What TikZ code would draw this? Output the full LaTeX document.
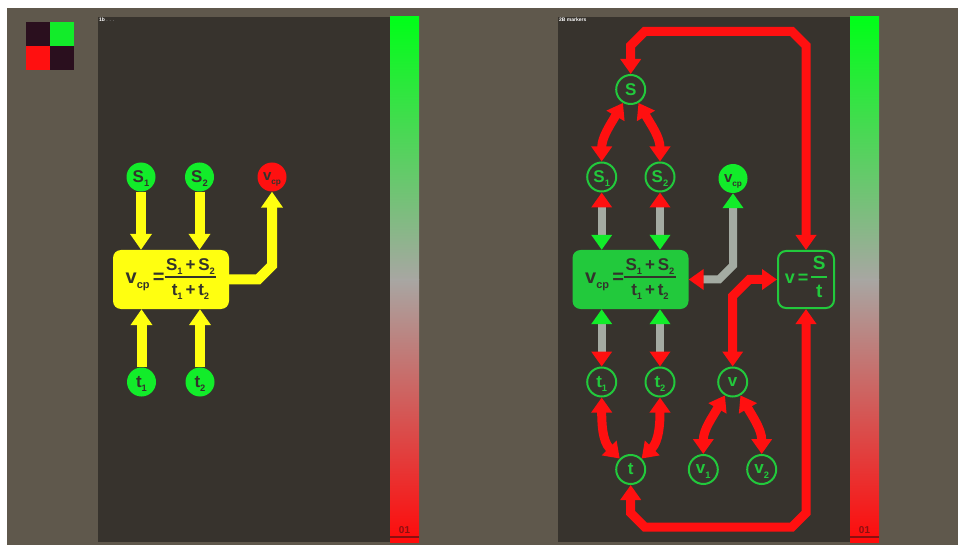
\documentclass[tikz,border=0pt]{standalone}
\usepackage{fontspec}
\usepackage{graphicx}
\setmainfont{Liberation Sans}
\usetikzlibrary{arrows.meta}
\definecolor{outer}{HTML}{5F584C}
\definecolor{panel}{HTML}{37332D}
\definecolor{ylw}{HTML}{FFFF10}
\definecolor{gbright}{HTML}{12EC2A}
\definecolor{gmid}{HTML}{22C93C}
\definecolor{rd}{HTML}{FF1010}
\definecolor{gry}{HTML}{A4ABA2}
\definecolor{txtdark}{HTML}{33332C}
\definecolor{barg}{HTML}{00FF18}
\definecolor{barm}{HTML}{A8A6A2}
\definecolor{barr}{HTML}{FF0A0A}
\definecolor{dred}{HTML}{8A1010}
\definecolor{chk}{HTML}{2A0F1E}
\newcommand{\sub}[1]{\raisebox{-0.45ex}[0pt][0pt]{\scalebox{0.55}{#1}}}
\newcommand{\myfrac}[3]{{\fontsize{#1}{#1}\selectfont\setlength{\arrayrulewidth}{1.8pt}\setlength{\tabcolsep}{1.5pt}\renewcommand{\arraystretch}{1.0}\begin{tabular}{c}#2\rule[-0.3em]{0pt}{0pt}\\[1pt]\hline\rule{0pt}{1.02em}#3\end{tabular}}}
\tikzset{
  fcirc/.style={circle, minimum size=29pt, inner sep=0pt, font=\fontsize{17}{17}\selectfont\bfseries, text=txtdark},
  lg/.style={fcirc, fill=gbright},
  lr/.style={fcirc, fill=rd},
  og/.style={fcirc, draw=gmid, line width=2pt, fill=panel, text=gmid},
  eqbox/.style={rounded corners=8pt, minimum width=116pt, minimum height=59pt, inner sep=0pt, font=\fontsize{20}{20}\selectfont\bfseries, text=txtdark},
  yarr/.style={draw=ylw, line width=10pt, line join=miter, -{Triangle[width=21pt,length=16pt]}},
  rarr/.style={draw=rd, line width=9pt, line join=miter, {Triangle[width=20pt,length=15pt]}-{Triangle[width=20pt,length=15pt]}},
  rgarr/.style={draw=gry, line width=8pt, line join=miter, {Triangle[width=20pt,length=15pt,color=rd]}-{Triangle[width=20pt,length=15pt,color=gbright]}},
  tinylbl/.style={font=\fontsize{5}{5}\selectfont\bfseries, text=white, anchor=west, inner sep=0pt},
  barlbl/.style={font=\fontsize{10}{10}\selectfont\bfseries, text=dred, inner sep=0pt}
}
\begin{document}
\begin{tikzpicture}[x=1pt,y=-1pt]
\useasboundingbox (0,0) rectangle (958,545);
\fill[white] (0,0) rectangle (958,545);
\fill[outer] (7,8) rectangle (958,545);
% checkers
\fill[chk] (26,22) rectangle (50,46);
\fill[gbright] (50,22) rectangle (74,46);
\fill[rd] (26,46) rectangle (50,70);
\fill[chk] (50,46) rectangle (74,70);
% panels
\fill[panel] (98,17) rectangle (390,542);
\fill[panel] (558,17) rectangle (850,542);
% bars
\foreach \bx in {390,850}{
  \shade[top color=barg, bottom color=barm] (\bx,17) rectangle (\bx+29,280);
  \shade[top color=barm, bottom color=barr] (\bx,280) rectangle (\bx+29,542);
  \draw[dred, line width=2pt] (\bx,536.5) -- (\bx+29,536.5);
}
\node[barlbl] (lbl01a) at (404.5,530) {01};
\node[barlbl] (lbl01b) at (864.5,530) {01};
\node[tinylbl] (tagA) at (99,20) {1b \textcolor{gray}{. . .}};
\node[tinylbl] (tagB) at (559,20) {2B markers};

% ---------- left panel ----------
\node[lg] (S1) at (141,177) {S\sub{1}};
\node[lg] (S2) at (199.5,177) {S\sub{2}};
\node[lr] (vcpL) at (272,177) {\fontsize{15}{15}\selectfont v\sub{cp}};
\node[eqbox, fill=ylw] (ybox) at (171,279.5) {v\sub{cp}\,=\myfrac{17}{S\sub{1}\,+\,S\sub{2}}{t\sub{1}\,+\,t\sub{2}}};
\node[lg] (t1) at (141.5,382) {t\sub{1}};
\node[lg] (t2) at (200,382) {t\sub{2}};
\draw[yarr] (S1) -- (S1.south |- ybox.north);
\draw[yarr] (S2) -- (S2.south |- ybox.north);
\draw[yarr] (t1) -- (t1.north |- ybox.south);
\draw[yarr] (t2) -- (t2.north |- ybox.south);
\draw[yarr] (ybox.east) -- (258,279.5) -- (272,265.5) -- (vcpL.south);

% ---------- right panel ----------
\node[og] (S) at (630.7,89.5) {S};
\node[og] (S1r) at (601.7,177) {S\sub{1}};
\node[og] (S2r) at (660,177) {S\sub{2}};
\node[fcirc, fill=gbright] (vcpR) at (733,178.5) {\fontsize{15}{15}\selectfont v\sub{cp}};
\node[eqbox, fill=gmid] (gbox) at (630.5,279.5) {v\sub{cp}\,=\myfrac{17}{S\sub{1}\,+\,S\sub{2}}{t\sub{1}\,+\,t\sub{2}}};
\node[eqbox, minimum width=56pt, minimum height=57pt, draw=gmid, line width=2pt, fill=panel, text=gmid, font=\fontsize{18}{18}\selectfont\bfseries] (vbox) at (806,279.5) {v\,=\,\myfrac{19}{S}{t}};
\node[og] (t1r) at (601.7,382) {t\sub{1}};
\node[og] (t2r) at (660,382) {t\sub{2}};
\node[og] (vR) at (732.7,382) {v};
\node[og] (tR) at (630.7,469.5) {t};
\node[og] (v1) at (703.3,469.5) {v\sub{1}};
\node[og] (v2) at (761.7,469.5) {v\sub{2}};

\draw[rgarr] (S1r) -- (S1r.south |- gbox.north);
\draw[rgarr] (S2r) -- (S2r.south |- gbox.north);
\draw[rgarr] (t1r) -- (t1r.north |- gbox.south);
\draw[rgarr] (t2r) -- (t2r.north |- gbox.south);
\draw[rgarr] (gbox.east) -- (719,279.5) -- (733,265.5) -- (vcpR.south);

\draw[rarr] (S.north) -- (630.7,45.5) -- (644.7,31.5) -- (792,31.5) -- (806,45.5) -- (vbox.north);
\draw[rarr] (tR.south) -- (630.7,513) -- (644.7,527) -- (792,527) -- (806,513) -- (vbox.south);
\draw[rarr] (vR.north) -- (732.7,296) -- (749.2,279.5) -- (vbox.west);

\draw[rarr] (S.240) to[out=240,in=90] (S1r.north);
\draw[rarr] (S.300) to[out=300,in=90] (S2r.north);
\draw[rarr] (t1r.south) to[out=-90,in=135] (tR.135);
\draw[rarr] (t2r.south) to[out=-90,in=45] (tR.45);
\draw[rarr] (vR.240) to[out=240,in=90] (v1.north);
\draw[rarr] (vR.300) to[out=300,in=90] (v2.north);
\end{tikzpicture}
\end{document}
